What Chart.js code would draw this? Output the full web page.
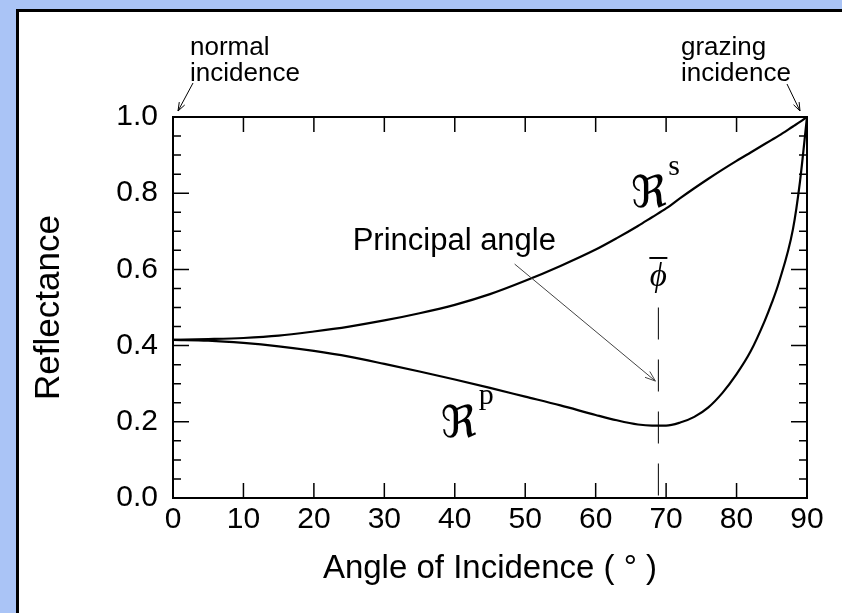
<!DOCTYPE html>
<html>
<head>
<meta charset="utf-8">
<script src="https://cdn.jsdelivr.net/npm/chart.js@4.4.0/dist/chart.umd.min.js"></script>
<style>
  html, body { margin: 0; padding: 0; background: #fff; }
  #chart-container { width: 842px; height: 613px; }
</style>
</head>
<body>
<div id="chart-container"><canvas id="chart" width="842" height="613"></canvas></div>
<script>
// reflectance of an absorbing surface vs. angle of incidence
const angles = [0, 5, 10, 15, 20, 25, 30, 35, 40, 45, 50, 55, 60, 63, 66, 68, 70, 72, 74, 76, 78, 80, 82, 84, 85, 86, 88, 89, 90];
const reflS = [0.415, 0.417, 0.420, 0.426, 0.437, 0.450, 0.466, 0.485, 0.507, 0.535, 0.570, 0.609, 0.652,
  0.682, 0.714, 0.737, 0.760, 0.787, 0.813, 0.838, 0.862, 0.885, 0.907, 0.929, 0.940, 0.951, 0.975, 0.987, 1.0];
const reflP = [0.415, 0.413, 0.407, 0.398, 0.386, 0.371, 0.352, 0.332, 0.311, 0.289, 0.266, 0.243, 0.218,
  0.204, 0.193, 0.190, 0.190, 0.198, 0.213, 0.238, 0.276, 0.325, 0.385, 0.465, 0.512, 0.565, 0.705, 0.830, 1.0];

const principalAngle = 68.9;
const xTicks = [0, 10, 20, 30, 40, 50, 60, 70, 80, 90];
const yTicks = [0, 0.2, 0.4, 0.6, 0.8, 1.0];
const yMinorStep = 0.05;

const SANS = '"Liberation Sans", Arial, Helvetica, sans-serif';
const SERIF = '"Liberation Serif", "Times New Roman", serif';

const plotBox = { left: 173, top: 117, right: 807, bottom: 498 };

function toPoints(ys) {
  return angles.map((a, i) => ({ x: a, y: ys[i] }));
}

function arrow(ctx, x0, y0, x1, y1, head) {
  const ang = Math.atan2(y1 - y0, x1 - x0);
  ctx.beginPath();
  ctx.moveTo(x0, y0);
  ctx.lineTo(x1, y1);
  ctx.moveTo(x1 - head * Math.cos(ang - 0.35), y1 - head * Math.sin(ang - 0.35));
  ctx.lineTo(x1, y1);
  ctx.lineTo(x1 - head * Math.cos(ang + 0.35), y1 - head * Math.sin(ang + 0.35));
  ctx.stroke();
}

// blue page edge with the black rule, white sheet behind the plot
const framePlugin = {
  id: 'frame',
  beforeDraw(chart) {
    const ctx = chart.ctx;
    ctx.save();
    ctx.fillStyle = '#aac4f6';
    ctx.fillRect(0, 0, chart.width, chart.height);
    ctx.fillStyle = '#000';
    ctx.fillRect(16, 9, chart.width - 16, chart.height - 9);
    ctx.fillStyle = '#fff';
    ctx.fillRect(19, 12, chart.width - 19, chart.height - 12);
    ctx.restore();
  }
};

// box around the plot with inward tick marks on all four sides
const boxTicksPlugin = {
  id: 'boxTicks',
  afterDatasetsDraw(chart) {
    const { ctx, chartArea: a, scales: { x, y } } = chart;
    ctx.save();
    ctx.strokeStyle = '#000';
    ctx.lineWidth = 1.5;
    ctx.beginPath();
    const n = Math.round(1 / yMinorStep);
    for (let i = 1; i < n; i++) {
      const py = y.getPixelForValue(i * yMinorStep);
      const len = i % 4 === 0 ? 16 : 8;
      ctx.moveTo(a.left, py); ctx.lineTo(a.left + len, py);
      ctx.moveTo(a.right, py); ctx.lineTo(a.right - len, py);
    }
    xTicks.slice(1, -1).forEach(d => {
      const px = x.getPixelForValue(d);
      ctx.moveTo(px, a.bottom); ctx.lineTo(px, a.bottom - 15);
      ctx.moveTo(px, a.top); ctx.lineTo(px, a.top + 15);
    });
    ctx.stroke();
    ctx.lineWidth = 2;
    ctx.strokeRect(a.left, a.top, a.right - a.left, a.bottom - a.top);
    ctx.restore();
  }
};

// curve labels, principal angle marker and the incidence notes
const notesPlugin = {
  id: 'notes',
  afterDraw(chart) {
    const { ctx, scales: { x, y } } = chart;
    const X = v => x.getPixelForValue(v);
    const Y = v => y.getPixelForValue(v);
    ctx.save();
    ctx.fillStyle = '#000';
    ctx.strokeStyle = '#000';
    ctx.textAlign = 'left';
    ctx.textBaseline = 'alphabetic';

    ctx.font = '26px ' + SANS;
    ctx.fillText('normal', X(0) + 17, 55);
    ctx.fillText('incidence', X(0) + 17, 81);
    ctx.fillText('grazing', X(90) - 126, 55);
    ctx.fillText('incidence', X(90) - 126, 81);
    ctx.lineWidth = 1;
    arrow(ctx, X(0) + 20, 83, X(0) + 5, Y(1) - 6, 9);
    arrow(ctx, X(90) - 20, 84, X(90) - 7, Y(1) - 6, 9);

    ctx.font = '31px ' + SANS;
    ctx.fillText('Principal angle', X(25.5), Y(0.651));
    ctx.strokeStyle = '#444';
    arrow(ctx, X(48.5), Y(0.614), X(principalAngle) - 3, Y(0.307), 11);

    // dashed marker at the principal angle
    ctx.strokeStyle = '#000';
    ctx.lineWidth = 1;
    ctx.setLineDash([32, 20]);
    ctx.beginPath();
    ctx.moveTo(X(principalAngle), Y(0.50));
    ctx.lineTo(X(principalAngle), Y(0));
    ctx.stroke();
    ctx.setLineDash([]);

    ctx.font = 'italic 33px ' + SERIF;
    ctx.textAlign = 'center';
    ctx.fillText('\u03D5', X(principalAngle), Y(0.556));
    ctx.lineWidth = 2;
    ctx.beginPath();
    ctx.moveTo(X(principalAngle) - 9, Y(0.630));
    ctx.lineTo(X(principalAngle) + 9, Y(0.630));
    ctx.stroke();

    ctx.textAlign = 'left';
    ctx.font = '44px "DejaVu Serif", "DejaVu Sans", serif';
    ctx.fillText('\u211C', X(65.0), Y(0.764));
    ctx.fillText('\u211C', X(38.0), Y(0.16));
    ctx.font = '30px ' + SERIF;
    ctx.fillText('s', X(70.3), Y(0.848));
    ctx.fillText('p', X(43.4), Y(0.247));
    ctx.restore();
  }
};

const chart = new Chart(document.getElementById('chart'), {
  type: 'line',
  data: {
    datasets: [
      { label: 'Rs', data: toPoints(reflS) },
      { label: 'Rp', data: toPoints(reflP) }
    ]
  },
  options: {
    responsive: false,
    animation: false,
    devicePixelRatio: 1,
    layout: { padding: { left: 0, top: plotBox.top, right: 842 - plotBox.right, bottom: 0 } },
    elements: {
      line: { borderColor: '#000', borderWidth: 2.2, cubicInterpolationMode: 'monotone', fill: false },
      point: { radius: 0 }
    },
    plugins: { legend: { display: false }, tooltip: { enabled: false } },
    scales: {
      x: {
        type: 'linear',
        min: 0,
        max: 90,
        afterBuildTicks: s => { s.ticks = xTicks.map(v => ({ value: v })); },
        afterFit: s => { s.height = 613 - plotBox.bottom; },
        grid: { display: false, drawTicks: false },
        border: { display: false },
        ticks: { color: '#000', font: { family: SANS, size: 30 }, padding: 4, maxRotation: 0, autoSkip: false },
        title: { display: true, text: 'Angle of Incidence ( \u00B0 )', color: '#000', font: { family: SANS, size: 33 }, padding: 24 }
      },
      y: {
        min: 0,
        max: 1,
        afterBuildTicks: s => { s.ticks = yTicks.map(v => ({ value: v })); },
        afterFit: s => { s.width = plotBox.left; },
        grid: { display: false, drawTicks: false },
        border: { display: false },
        ticks: { color: '#000', font: { family: SANS, size: 30 }, padding: 15, callback: v => v.toFixed(1) },
        title: { display: true, text: 'Reflectance', color: '#000', font: { family: SANS, size: 35 }, padding: 28 }
      }
    }
  },
  plugins: [framePlugin, boxTicksPlugin, notesPlugin]
});
</script>
</body>
</html>
